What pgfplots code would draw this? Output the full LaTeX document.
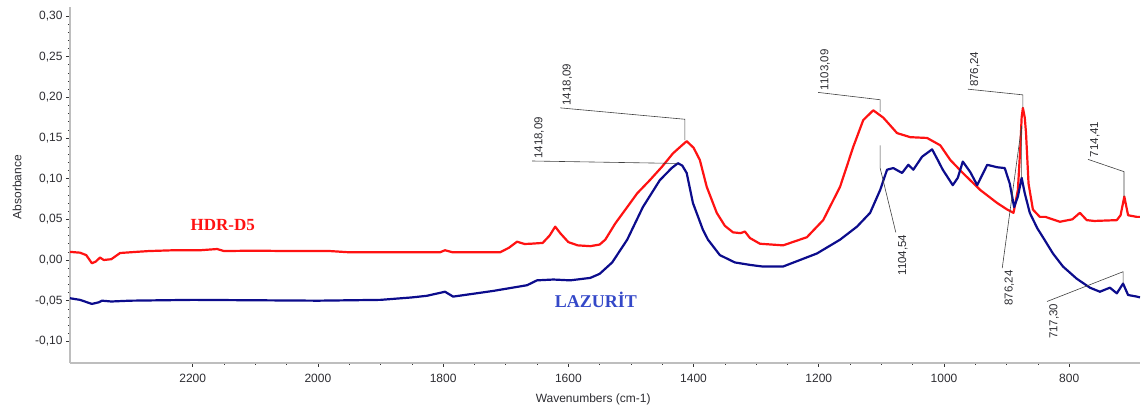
\documentclass[border=0pt]{standalone}
\usepackage{fontspec}
\setmainfont{Liberation Sans}
\newfontfamily\seriffont{Liberation Serif}
\usepackage{pgfplots}
\pgfplotsset{compat=1.18}
\definecolor{redc}{RGB}{255,18,18}
\definecolor{bluec}{RGB}{12,12,140}
\definecolor{labblue}{RGB}{52,72,200}
\definecolor{axgray}{RGB}{190,190,190}
\definecolor{txt}{RGB}{45,45,50}
\tikzset{annot/.style={draw=black!75, line width=0.6pt},
  alab/.style={rotate=90, text=txt, font=\fontsize{11.5}{13}\selectfont, inner sep=2pt}}
\begin{document}
\begin{tikzpicture}
\useasboundingbox (-70pt,-48pt) rectangle (1072pt,363pt);
\begin{axis}[
  at={(0,0)}, anchor=south west,
  scale only axis, width=1070pt, height=356pt,
  x dir=reverse,
  xmin=687, xmax=2396, ymin=-0.1266, ymax=0.311,
  axis x line=bottom, axis y line=left,
  axis line style={-, draw=axgray, line width=1.6pt},
  xtick={800,1000,1200,1400,1600,1800,2000,2200},
  xticklabels={800,1000,1200,1400,1600,1800,2000,2200},
  minor x tick num=3,
  ytick={-0.1,-0.05,0,0.05,0.1,0.15,0.2,0.25,0.3},
  yticklabels={{-0,10},{-0,05},{0,00},{0,05},{0,10},{0,15},{0,20},{0,25},{0,30}},
  minor y tick num=4,
  tick align=outside,
  major tick length=4pt, minor tick length=2pt,
  tick style={black!80, line width=0.6pt},
  ticklabel style={font=\fontsize{12}{14}\selectfont, text=txt},
  xticklabel style={yshift=-4pt},
  xlabel={Wavenumbers (cm-1)}, ylabel={Absorbance},
  xlabel style={at={(axis description cs:0.489,0)}, anchor=center, yshift=-36pt, font=\fontsize{12}{14}\selectfont, text=txt},
  ylabel style={at={(axis description cs:-0.0495,0.494)}, anchor=center, font=\fontsize{12}{14}\selectfont, text=txt},
  clip=false,
]
% HDR-D5 (red)
\addplot[redc, line width=2.2pt, line join=round] coordinates {
(2396,0.010) (2380,0.009) (2370,0.006) (2361,-0.004) (2355,-0.002) (2348,0.003) (2342,0.000)
(2330,0.001) (2316,0.0086) (2290,0.010) (2270,0.011) (2230,0.012) (2188,0.012) (2161,0.0135)
(2150,0.011) (2100,0.0115) (2050,0.011) (1981,0.011) (1950,0.0095) (1900,0.0095) (1805,0.0095)
(1797,0.012) (1785,0.0095) (1773,0.0095) (1709,0.0095) (1695,0.015) (1682,0.0225) (1670,0.0197)
(1660,0.020) (1641,0.021) (1630,0.030) (1621,0.041) (1613,0.033) (1600,0.022) (1585,0.018)
(1565,0.017) (1550,0.019) (1541,0.025) (1525,0.045) (1506,0.065) (1490,0.082) (1470,0.098)
(1450,0.115) (1433,0.131) (1420,0.140) (1411,0.146) (1400,0.138) (1390,0.123) (1379,0.090)
(1363,0.058) (1350,0.042) (1337,0.034) (1325,0.033) (1318,0.035) (1310,0.027) (1294,0.020)
(1257,0.018) (1219,0.028) (1193,0.049) (1166,0.090) (1145,0.139) (1129,0.172) (1113,0.184)
(1097,0.175) (1075,0.156) (1054,0.151) (1027,0.150) (1006,0.141) (990,0.123) (970,0.107)
(942,0.086) (915,0.070) (899,0.062) (889,0.058) (882,0.086) (878,0.140) (876,0.175) (874,0.187)
(871,0.175) (869,0.156) (865,0.094) (858,0.062) (847,0.053) (838,0.053) (815,0.047) (795,0.050)
(783,0.058) (772,0.049) (760,0.048) (724,0.049) (718,0.055) (712,0.078) (706,0.055) (692,0.053)
(687,0.053)
};
% LAZURIT (blue)
\addplot[bluec, line width=2.2pt, line join=round] coordinates {
(2396,-0.047) (2380,-0.049) (2361,-0.054) (2350,-0.052) (2345,-0.050) (2330,-0.051) (2300,-0.050)
(2200,-0.049) (2000,-0.050) (1900,-0.049) (1850,-0.046) (1826,-0.044) (1797,-0.039) (1784,-0.045)
(1720,-0.038) (1666,-0.031) (1650,-0.025) (1624,-0.024) (1597,-0.025) (1565,-0.022) (1550,-0.017)
(1530,-0.003) (1506,0.025) (1481,0.065) (1454,0.098) (1435,0.113) (1425,0.119) (1418,0.116)
(1411,0.107) (1401,0.070) (1385,0.037) (1377,0.025) (1358,0.006) (1334,-0.003) (1310,-0.006)
(1290,-0.008) (1257,-0.008) (1203,0.008) (1166,0.025) (1139,0.041) (1118,0.058) (1102,0.086)
(1091,0.111) (1081,0.113) (1067,0.107) (1057,0.117) (1049,0.111) (1035,0.127) (1019,0.136)
(1010,0.123) (1002,0.111) (986,0.092) (978,0.101) (970,0.121) (958,0.108) (947,0.092) (931,0.117)
(915,0.114) (903,0.113) (895,0.094) (888,0.065) (882,0.078) (876,0.101) (871,0.082) (863,0.058)
(851,0.039) (842,0.028) (826,0.008) (810,-0.008) (788,-0.023) (767,-0.034) (751,-0.039)
(735,-0.034) (724,-0.041) (714,-0.029) (706,-0.043) (692,-0.045) (687,-0.046)
};
% annotations
\draw[annot] (axis cs:1414,0.1475) -- (axis cs:1414,0.173) -- (axis cs:1613,0.187)
  node[alab, anchor=north west] {1418,09};
\draw[annot] (axis cs:1426,0.1187) -- (axis cs:1658,0.1217)
  node[alab, anchor=north west] {1418,09};
\draw[annot] (axis cs:1102,0.182) -- (axis cs:1102,0.197) -- (axis cs:1201,0.206)
  node[alab, anchor=north west] {1103,09};
\draw[annot] (axis cs:1102,0.141) -- (axis cs:1102,0.113) -- (axis cs:1077,0.034)
  node[alab, anchor=north east] {1104,54};
\draw[annot] (axis cs:874,0.187) -- (axis cs:874,0.203) -- (axis cs:962,0.210)
  node[alab, anchor=north west] {876,24};
\draw[annot] (axis cs:876,0.101) -- (axis cs:876,0.165) -- (axis cs:907,-0.010)
  node[alab, anchor=north east] {876,24};
\draw[annot] (axis cs:712.5,0.078) -- (axis cs:712.5,0.1086) -- (axis cs:770,0.1237)
  node[alab, anchor=north west] {714,41};
\draw[annot] (axis cs:714,-0.029) -- (axis cs:714,-0.0144) -- (axis cs:835.5,-0.051)
  node[alab, anchor=north east] {717,30};
\node[text=redc, font=\seriffont\bfseries\fontsize{17}{20}\selectfont] at (axis cs:2152,0.043) {HDR-D5};
\node[text=labblue, font=\seriffont\bfseries\fontsize{18}{20}\selectfont] at (axis cs:1556,-0.049) {LAZURİT};
\end{axis}
\end{tikzpicture}
\end{document}
